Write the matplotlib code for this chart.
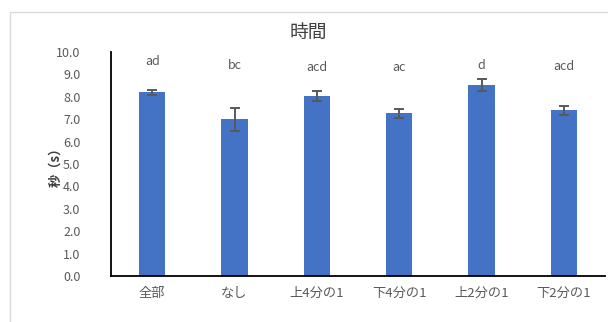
import matplotlib.pyplot as plt
from matplotlib.patches import Rectangle

plt.rcParams['font.family'] = ['Noto Sans CJK JP', 'DejaVu Sans']

categories = ["全部", "なし", "上4分の1", "下4分の1", "上2分の1", "下2分の1"]
means = [8.2, 7.0, 8.02, 7.26, 8.51, 7.39]
errors = [0.12, 0.52, 0.22, 0.21, 0.27, 0.19]
groups = ["ad", "bc", "acd", "ac", "d", "acd"]
group_y = [9.58, 9.39, 9.33, 9.33, 9.39, 9.36]

bar_color = "#4472C4"
text_gray = "#595959"

fig = plt.figure(figsize=(6.08, 3.22), dpi=100)
fig.patch.set_facecolor("white")

# light chart-area frame
fig.patches.append(Rectangle((10 / 608, -0.1), 1.2, 1 - 12 / 322 + 0.1,
                             transform=fig.transFigure, fill=False,
                             edgecolor="#d9d9d9", linewidth=1.0))

ax = fig.add_axes([111 / 608, 1 - 276 / 322, (605 - 111) / 608, (276 - 52) / 322])
x = range(len(categories))
ax.bar(x, means, width=0.32, color=bar_color, zorder=2)
ax.errorbar(x, means, yerr=errors, fmt="none", ecolor=text_gray,
            elinewidth=1.4, capsize=3.5, capthick=1.4, zorder=3)

for xi, label, yi in zip(x, groups, group_y):
    ax.text(xi, yi, label, ha="center", va="center", fontsize=9, color=text_gray)

ax.set_xlim(-0.5, len(categories) - 0.5)
ax.set_ylim(0, 10)
ax.set_yticks([i for i in range(11)])
ax.set_yticklabels([f"{i:.1f}" for i in range(11)], fontsize=9, color=text_gray)
ax.set_xticks(list(x))
ax.set_xticklabels(categories, fontsize=9.5, color=text_gray)
ax.tick_params(axis="both", length=0, pad=8)
ax.tick_params(axis="y", pad=22)

for side in ("top", "right"):
    ax.spines[side].set_visible(False)
for side in ("left", "bottom"):
    ax.spines[side].set_color("black")
    ax.spines[side].set_linewidth(1.3)

ax.set_ylabel("秒（s）", fontsize=9.5, color="#404040", fontweight="bold")
ax.yaxis.set_label_coords(-0.098, 0.5)

# title centred on the chart area rather than the plot area
fig.text(308 / 608, 1 - 32 / 322, "時間", ha="center", va="center",
         fontsize=13.5, color="#404040")

fig.savefig("out.png", dpi=100, facecolor="white")
